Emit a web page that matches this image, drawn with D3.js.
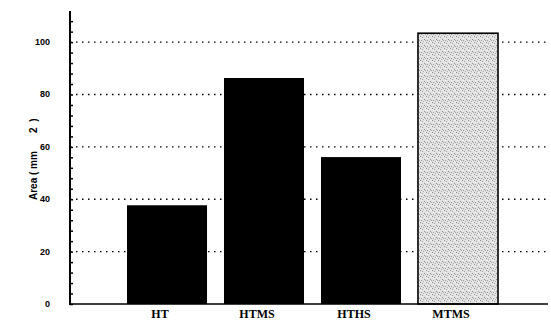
<!DOCTYPE html>
<html>
  <head>
    <meta charset="utf-8">
    <style>
      body { margin: 0; background: #fff; }
      svg { display: block; }
    </style>
  </head>
  <body>
    <div id='graph'></div>
    <script src="https://cdn.jsdelivr.net/npm/d3@7"></script>
    <script>

    var categories = ['HT', 'HTMS', 'HTHS', 'MTMS'];
    var values = [37.7, 86.3, 56.1, 103.4];
    var majorTicks = [0, 20, 40, 60, 80, 100];
    var minorTicks = d3.range(0, 112, 4);

    var width = 551, height = 325;
    var x0 = 70, y0 = 304;

    var svg = d3.select('#graph').append('svg')
        .attr('width', width)
        .attr('height', height);

    // stipple pattern for the last bar
    var pat = svg.append('defs').append('pattern')
        .attr('id', 'stip')
        .attr('patternUnits', 'userSpaceOnUse')
        .attr('width', 6).attr('height', 6);
    pat.append('rect').attr('width', 6).attr('height', 6).attr('fill', '#e2e2e2');
    [[0,0,'#8a8a8a'],[2,1,'#a0a0a0'],[4,3,'#909090'],[1,4,'#9a9a9a'],[5,0,'#f6f6f6'],[3,5,'#b0b0b0'],[1,2,'#f4f4f4'],[5,4,'#a8a8a8']]
      .forEach(function(p) {
        pat.append('rect').attr('x', p[0]).attr('y', p[1]).attr('width', 1).attr('height', 1).attr('fill', p[2]);
      });

    var y = d3.scaleLinear().domain([0, 111.5]).range([y0, 12]);
    var x = d3.scaleBand().domain(categories).range([107.6, 517.4]).paddingInner(0.175).paddingOuter(0.2);

    // dotted gridlines
    svg.selectAll('.grid')
        .data(majorTicks.filter(function(d) { return d > 0; }))
        .enter().append('line')
        .attr('class', 'grid')
        .attr('x1', x0).attr('x2', 546)
        .attr('y1', function(d) { return y(d); })
        .attr('y2', function(d) { return y(d); })
        .attr('stroke', '#000')
        .attr('stroke-width', 1.3)
        .attr('stroke-dasharray', '1.5,4.5');

    // bars
    svg.selectAll('.bar')
        .data(values)
        .enter().append('rect')
        .attr('class', 'bar')
        .attr('x', function(d, i) { return x(categories[i]); })
        .attr('width', x.bandwidth())
        .attr('y', function(d) { return y(d); })
        .attr('height', function(d) { return y0 - y(d); })
        .attr('fill', function(d, i) { return i == 3 ? 'url(#stip)' : '#000'; })
        .attr('stroke', '#000')
        .attr('stroke-width', function(d, i) { return i == 3 ? 1.6 : 0; });

    // y axis, ticks pointing inward
    var yAxis = d3.axisRight(y).tickValues(minorTicks).tickSize(3).tickFormat('');
    var ga = svg.append('g').attr('transform', 'translate(' + x0 + ',0)').call(yAxis);
    ga.select('.domain').remove();
    ga.selectAll('line').attr('stroke-width', 1.5);

    svg.append('line')
        .attr('x1', x0).attr('x2', x0)
        .attr('y1', 11).attr('y2', y0 + 1)
        .attr('stroke', '#000').attr('stroke-width', 2);
    svg.append('line')
        .attr('x1', x0 - 1).attr('x2', 548)
        .attr('y1', y0).attr('y2', y0)
        .attr('stroke', '#000').attr('stroke-width', 1.6);

    // y tick labels
    svg.selectAll('.ylab')
        .data(majorTicks)
        .enter().append('text')
        .attr('class', 'ylab')
        .attr('x', 50)
        .attr('y', function(d) { return y(d) + 3; })
        .attr('text-anchor', 'end')
        .attr('font-family', 'Liberation Sans, Arial, sans-serif')
        .attr('font-weight', 'bold')
        .attr('font-size', 9)
        .text(function(d) { return d; });

    // category labels
    svg.selectAll('.xlab')
        .data(categories)
        .enter().append('text')
        .attr('class', 'xlab')
        .attr('x', function(d) { return x(d) + x.bandwidth() / 2 - 7; })
        .attr('y', 318)
        .attr('text-anchor', 'middle')
        .attr('font-family', 'Liberation Serif, Times New Roman, serif')
        .attr('font-weight', 'bold')
        .attr('font-size', 12)
        .text(function(d) { return d; });

    // y axis title
    var t = svg.append('text')
        .attr('transform', 'translate(37,200) rotate(-90)')
        .attr('text-anchor', 'start')
        .attr('font-family', 'Liberation Sans, Arial, sans-serif')
        .attr('font-weight', 'bold')
        .attr('font-size', 10);
    t.append('tspan').text('Area ( mm');
    t.append('tspan').attr('dx', 18).text('2');
    t.append('tspan').attr('dx', 3).text(' )');

    </script>
  </body>
</html>
